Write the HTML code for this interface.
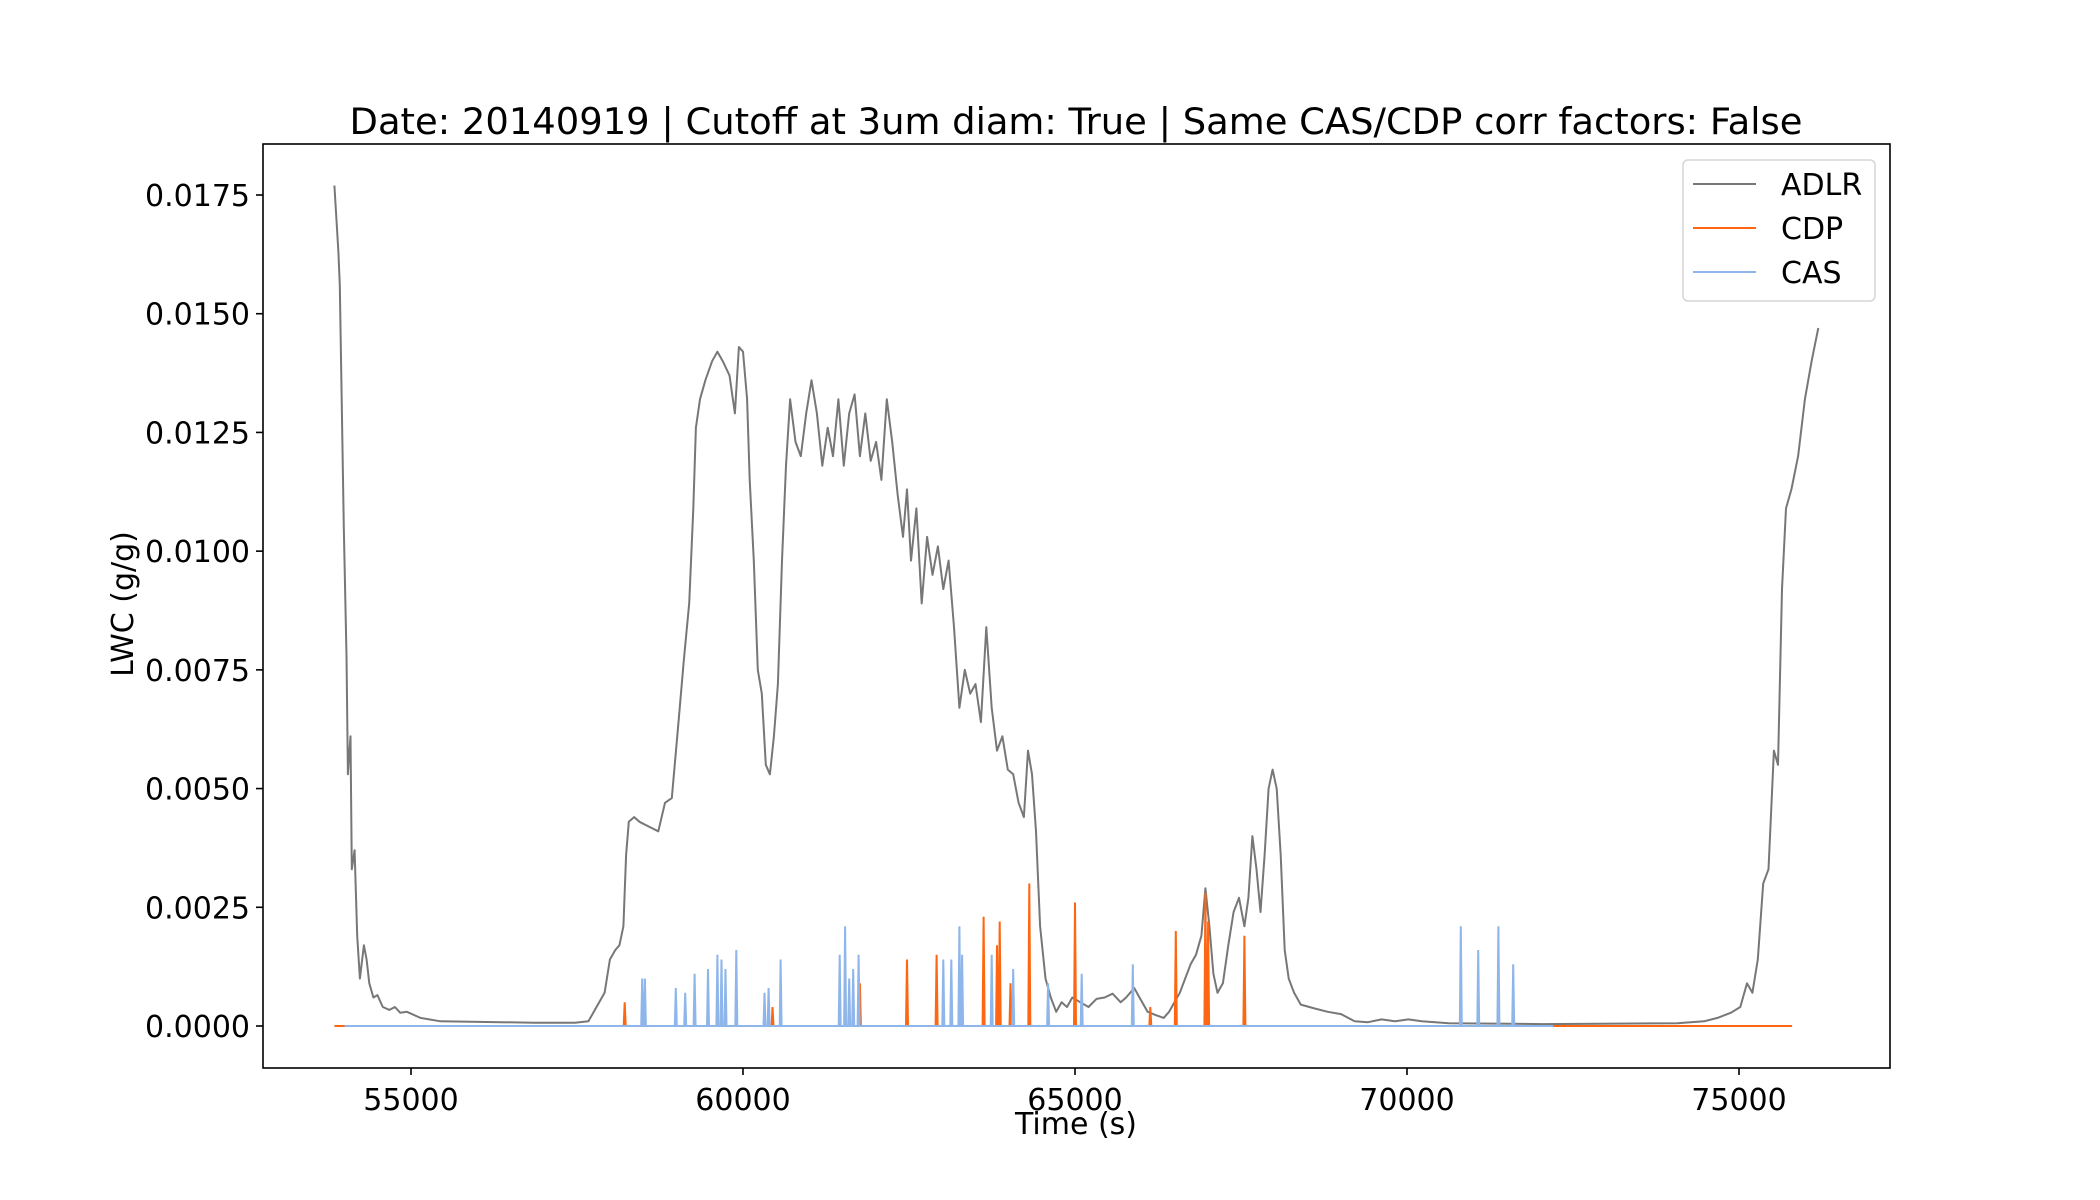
<!DOCTYPE html>
<html><head><meta charset="utf-8"><style>
html,body{margin:0;padding:0;background:#fff;}
svg{display:block;font-family:"DejaVu Sans","Liberation Sans",sans-serif;}
</style></head><body>
<svg id="chart" width="2100" height="1200" viewBox="0 0 2100 1200">
<rect x="0" y="0" width="2100" height="1200" fill="#fff"/>
<text x="1076" y="134" font-size="36.9" text-anchor="middle">Date: 20140919 | Cutoff at 3um diam: True | Same CAS/CDP corr factors: False</text>
<g id="plot"></g>
<g id="axes"></g>
<text x="1076" y="1134" font-size="30" text-anchor="middle">Time (s)</text>
<text x="0" y="0" font-size="30" text-anchor="middle" transform="translate(133,604) rotate(-90)">LWC (g/g)</text>
<g>
<rect x="1683" y="160" width="192" height="141" rx="5" fill="#fff" stroke="#d6d6d6" stroke-width="1.5"/>
<line x1="1693" y1="184" x2="1756" y2="184" stroke="#777" stroke-width="2"/>
<text x="1781" y="195" font-size="30">ADLR</text>
<line x1="1693" y1="228" x2="1756" y2="228" stroke="#ff6611" stroke-width="2"/>
<text x="1781" y="239" font-size="30">CDP</text>
<line x1="1693" y1="272" x2="1756" y2="272" stroke="#8fb6ea" stroke-width="2"/>
<text x="1781" y="283" font-size="30">CAS</text>
</g>
</svg>
<script>
const adlrTimes=[53846,53907,53927,53988,54028,54049,54089,54109,54150,54190,54231,54291,54332,54372,54433,54494,54575,54676,54757,54838,54939,55142,55445,56862,57470,57672,57793,57915,57996,58077,58138,58199,58239,58280,58360,58441,58583,58725,58826,58927,59028,59109,59190,59251,59291,59352,59433,59534,59615,59696,59797,59878,59939,60000,60061,60101,60162,60223,60283,60344,60405,60466,60526,60587,60648,60709,60790,60871,60952,61032,61113,61194,61275,61356,61437,61518,61599,61680,61761,61842,61923,62004,62085,62166,62247,62328,62409,62470,62530,62611,62692,62773,62854,62935,63016,63097,63178,63259,63340,63421,63502,63583,63664,63745,63826,63907,63988,64069,64150,64231,64292,64352,64413,64474,64555,64636,64717,64798,64879,64960,65081,65203,65324,65446,65567,65689,65770,65891,65972,66093,66215,66336,66417,66498,66579,66660,66741,66822,66903,66964,67024,67085,67146,67227,67308,67389,67470,67551,67612,67672,67733,67794,67855,67916,67976,68037,68098,68158,68219,68300,68401,68604,68806,69008,69211,69413,69616,69818,70020,70223,70628,72045,74069,74474,74676,74879,75020,75121,75202,75283,75364,75445,75526,75587,75648,75708,75789,75890,75992,76093,76194];
const adlrValues=[0.0177,0.0163,0.0156,0.0105,0.0078,0.0053,0.0061,0.0033,0.0037,0.0019,0.0010,0.0017,0.0014,0.0009,0.0006,0.00065,0.0004,0.00034,0.0004,0.00028,0.0003,0.00017,0.0001,0.00007,0.00007,0.0001,0.0004,0.0007,0.0014,0.0016,0.0017,0.0021,0.0036,0.0043,0.0044,0.0043,0.0042,0.0041,0.0047,0.0048,0.0064,0.0077,0.0089,0.0109,0.0126,0.0132,0.0136,0.0140,0.0142,0.0140,0.0137,0.0129,0.0143,0.0142,0.0132,0.0115,0.0098,0.0075,0.0070,0.0055,0.0053,0.0061,0.0072,0.0098,0.0118,0.0132,0.0123,0.0120,0.0129,0.0136,0.0129,0.0118,0.0126,0.0120,0.0132,0.0118,0.0129,0.0133,0.0120,0.0129,0.0119,0.0123,0.0115,0.0132,0.0123,0.0112,0.0103,0.0113,0.0098,0.0109,0.0089,0.0103,0.0095,0.0101,0.0092,0.0098,0.0084,0.0067,0.0075,0.0070,0.0072,0.0064,0.0084,0.0067,0.0058,0.0061,0.0054,0.0053,0.0047,0.0044,0.0058,0.0053,0.0041,0.0021,0.0010,0.0006,0.0003,0.0005,0.0004,0.0006,0.0005,0.0004,0.00057,0.0006,0.00068,0.0005,0.0006,0.0008,0.0006,0.0003,0.00023,0.00017,0.0003,0.0005,0.0007,0.0010,0.0013,0.0015,0.0019,0.0029,0.0021,0.0011,0.0007,0.0009,0.0017,0.0024,0.0027,0.0021,0.0027,0.0040,0.0033,0.0024,0.0036,0.0050,0.0054,0.0050,0.0036,0.0016,0.0010,0.0007,0.00045,0.00037,0.0003,0.00025,0.0001,0.00008,0.00014,0.0001,0.00014,0.0001,0.00006,0.00004,0.00006,0.0001,0.00017,0.00028,0.0004,0.0009,0.0007,0.0014,0.0030,0.0033,0.0058,0.0055,0.0092,0.0109,0.0113,0.0120,0.0132,0.0140,0.0147];
const cdpRange=[53846,75800];
const cdpSpikeTimes=[58219,60445,61761,62470,62915,63623,63826,63866,64028,64312,65000,66134,66518,66964,67004,67551];
const cdpSpikeValues=[0.0005,0.0004,0.0009,0.0014,0.0015,0.0023,0.0017,0.0022,0.0009,0.0030,0.0026,0.0004,0.0020,0.0028,0.0022,0.0019];
const casRange=[54000,72200];
const casSpikeTimes=[58482,58523,58988,59129,59271,59473,59615,59676,59737,59899,60324,60385,60567,61457,61538,61599,61660,61741,63016,63137,63259,63300,63745,64069,64595,65101,65871,70810,71073,71376,71599];
const casSpikeValues=[0.0010,0.0010,0.0008,0.0007,0.0011,0.0012,0.0015,0.0014,0.0012,0.0016,0.0007,0.0008,0.0014,0.0015,0.0021,0.0010,0.0012,0.0015,0.0014,0.0014,0.0021,0.0015,0.0015,0.0012,0.0009,0.0011,0.0013,0.0021,0.0016,0.0021,0.0013];
const xTicks=[55000,60000,65000,70000,75000];
const yTicks=[0,0.0025,0.005,0.0075,0.01,0.0125,0.015,0.0175];
const yTickLabels=["0.0000","0.0025","0.0050","0.0075","0.0100","0.0125","0.0150","0.0175"];

const NS="http://www.w3.org/2000/svg";
const L=263,R=1890,T=144,B=1068;
function xs(t){return 411+(t-55000)*(1328/20000);}
function ys(v){return 1026-v*(831/0.0175);}
function mk(tag,attrs,parent){const e=document.createElementNS(NS,tag);for(const k in attrs)e.setAttribute(k,attrs[k]);parent.appendChild(e);return e;}
const plot=document.getElementById('plot');
const axes=document.getElementById('axes');

let d='';
adlrTimes.forEach((t,i)=>{d+=(i?'L':'M')+xs(t).toFixed(1)+' '+ys(adlrValues[i]).toFixed(1);});
const adlr=mk('path',{d:d,fill:'none',stroke:'#777','stroke-width':2,'stroke-linejoin':'round'},plot);



function spikes(range,times,vals){
  const pts=[[range[0],0]];
  const idx=times.map((t,i)=>i).sort((a,b)=>times[a]-times[b]);
  idx.forEach(i=>{pts.push([times[i]-15,0]);pts.push([times[i],vals[i]]);pts.push([times[i]+15,0]);});
  pts.push([range[1],0]);
  return pts.map((p,i)=>(i?'L':'M')+xs(p[0]).toFixed(1)+' '+ys(p[1]).toFixed(1)).join('');
}
const cdp=mk('path',{d:spikes(cdpRange,cdpSpikeTimes,cdpSpikeValues),fill:'none',stroke:'#ff6611','stroke-width':2},plot);


const cas=mk('path',{d:spikes(casRange,casSpikeTimes,casSpikeValues),fill:'none',stroke:'#8fb6ea','stroke-width':2},plot);



const frame=mk('rect',{x:L,y:T,width:R-L,height:B-T,fill:'none',stroke:'#000','stroke-width':1.6},axes);


xTicks.forEach(t=>{
  const x=xs(t);
  const tk=mk('line',{x1:x,y1:B,x2:x,y2:B+7,stroke:'#000','stroke-width':1.6},axes);
  
  
  const lb=mk('text',{x:x,y:B+42,'font-size':30,'text-anchor':'middle'},axes);
  lb.textContent=String(t);
  
  
});
yTicks.forEach((v,i)=>{
  const y=ys(v);
  const tk=mk('line',{x1:L-7,y1:y,x2:L,y2:y,stroke:'#000','stroke-width':1.6},axes);
  
  
  const lb=mk('text',{x:L-13,y:y+11,'font-size':30,'text-anchor':'end'},axes);
  lb.textContent=yTickLabels[i];
  
  
});
</script>
</body></html>
